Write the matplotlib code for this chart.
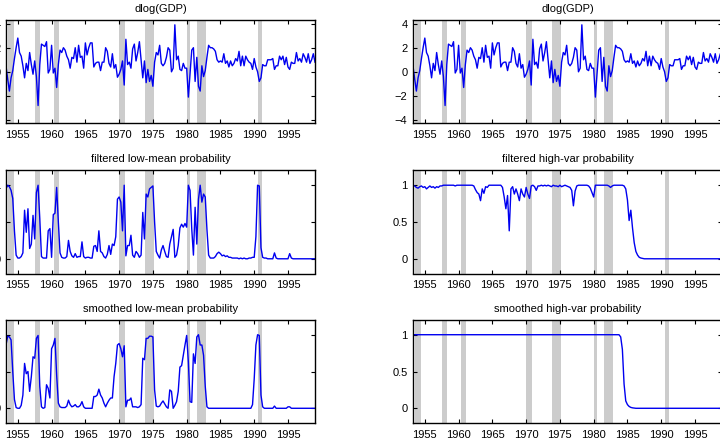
import numpy as np
import matplotlib
matplotlib.use("Agg")
import matplotlib.pyplot as plt

plt.rcParams['font.family'] = ['Liberation Sans', 'DejaVu Sans']
plt.rcParams['font.size'] = 8

# quarterly data, first obs 1953Q2, last obs 1999Q1
first_date = 1953.25

gdp = [
    0.5, -0.6, -1.6,            # 1953
    -0.5, 0.1, 1.1, 2.0,        # 1954
    2.8, 1.6, 1.3, 0.5,         # 1955
    -0.5, 0.7, 0.1, 1.6,        # 1956
    0.6, -0.2, 0.9, -0.4,       # 1957
    -2.8, 0.6, 2.3, 2.2,        # 1958
    2.1, 2.5, -0.1, 0.2,        # 1959
    2.2, -0.1, 0.3, -1.3,       # 1960
    0.6, 1.8, 1.6, 2.0,         # 1961
    1.8, 1.3, 1.0, 0.3,         # 1962
    1.2, 1.1, 2.0, 0.8,         # 1963
    2.2, 1.2, 1.3, 0.3,         # 1964
    2.4, 1.4, 2.0, 2.4,         # 1965
    2.4, 0.4, 0.7, 0.8,         # 1966
    0.8, 0.1, 0.8, 0.8,         # 1967
    2.0, 1.7, 0.7, 0.4,         # 1968
    1.5, 0.3, 0.6, -0.45,       # 1969
    -0.2, 0.2, 0.9, -1.1,       # 1970
    2.7, 0.6, 0.8, 0.3,         # 1971
    1.9, 2.3, 0.9, 1.6,         # 1972
    2.5, 1.0, -0.5, 0.9,        # 1973
    -0.9, 0.2, -0.8, -0.3,      # 1974
    -1.2, 0.8, 1.6, 1.4,        # 1975
    2.2, 0.7, 0.5, 0.7,         # 1976
    1.2, 2.0, 1.8, 0.0,         # 1977
    0.3, 3.9, 1.0, 1.3,         # 1978
    0.2, 0.1, 0.7, 0.3,         # 1979
    0.3, -2.1, -0.1, 1.8,       # 1980
    2.0, -0.8, 1.2, -1.2,       # 1981
    -1.6, 0.5, -0.4, 0.1,       # 1982
    1.2, 2.2, 2.0, 2.0,         # 1983
    1.9, 1.7, 1.0, 0.8,         # 1984
    0.9, 0.8, 1.5, 0.7,         # 1985
    0.9, 0.4, 0.9, 0.5,         # 1986
    0.7, 1.1, 0.9, 1.7,         # 1987
    0.5, 1.3, 0.5, 1.3,         # 1988
    1.0, 0.8, 0.7, 0.2,         # 1989
    1.1, 0.4, 0.0, -0.8,        # 1990
    -0.5, 0.6, 0.5, 0.5,        # 1991
    1.0, 1.0, 1.0, 1.1,         # 1992
    0.2, 0.5, 0.5, 1.3,         # 1993
    1.0, 1.3, 0.6, 1.2,         # 1994
    0.4, 0.2, 0.8, 0.7,         # 1995
    0.7, 1.6, 0.9, 1.1,         # 1996
    0.8, 1.5, 1.2, 0.8,         # 1997
    1.5, 0.7, 1.0, 1.5,         # 1998
    0.8,                        # 1999
]

filt_low_mean = [
    0.95, 1.0, 0.98,            # 1953
    0.93, 0.82, 0.38, 0.05,     # 1954
    0.01, 0.01, 0.03, 0.08,     # 1955
    0.66, 0.36, 0.68, 0.14,     # 1956
    0.2, 0.59, 0.27, 0.9,       # 1957
    1.0, 0.55, 0.03, 0.01,      # 1958
    0.01, 0.01, 0.38, 0.41,     # 1959
    0.02, 0.6, 0.62, 0.97,      # 1960
    0.5, 0.08, 0.02, 0.01,      # 1961
    0.01, 0.03, 0.25, 0.1,      # 1962
    0.04, 0.02, 0.07, 0.02,     # 1963
    0.03, 0.03, 0.23, 0.03,     # 1964
    0.01, 0.02, 0.02, 0.01,     # 1965
    0.01, 0.17, 0.18, 0.1,      # 1966
    0.38, 0.1, 0.08, 0.03,      # 1967
    0.01, 0.06, 0.18, 0.06,     # 1968
    0.2, 0.18, 0.3, 0.81,       # 1969
    0.84, 0.77, 0.38, 1.0,      # 1970
    0.04, 0.18, 0.18, 0.32,     # 1971
    0.05, 0.02, 0.1, 0.07,      # 1972
    0.02, 0.05, 0.63, 0.27,     # 1973
    0.88, 0.84, 0.95, 0.97,     # 1974
    0.99, 0.5, 0.1, 0.05,       # 1975
    0.01, 0.12, 0.18, 0.1,      # 1976
    0.03, 0.02, 0.2, 0.3,       # 1977
    0.4, 0.02, 0.05, 0.18,      # 1978
    0.42, 0.47, 0.43, 0.48,     # 1979
    0.43, 1.0, 0.93, 0.41,      # 1980
    0.05, 0.7, 0.2, 0.81,       # 1981
    1.0, 0.77, 0.88, 0.84,      # 1982
    0.4, 0.05, 0.01, 0.01,      # 1983
    0.01, 0.03, 0.07, 0.09,     # 1984
    0.07, 0.04, 0.05, 0.03,     # 1985
    0.04, 0.02, 0.02, 0.01,     # 1986
    0.01, 0.01, 0.01, 0.0,      # 1987
    0.01, 0.0, 0.01, 0.0,       # 1988
    0.0, 0.01, 0.01, 0.02,      # 1989
    0.02, 0.3, 1.0, 0.99,       # 1990
    0.15, 0.02, 0.01, 0.01,     # 1991
    0.0, 0.0, 0.0, 0.0,         # 1992
    0.08, 0.01, 0.0, 0.0,       # 1993
    0.0, 0.0, 0.0, 0.0,         # 1994
    0.0, 0.07, 0.01, 0.0,       # 1995
    0.0, 0.0, 0.0, 0.0,         # 1996
    0.0, 0.0, 0.0, 0.0,         # 1997
    0.0, 0.0, 0.0, 0.0,         # 1998
    0.0,                        # 1999
]

filt_high_var = [
    1.0, 0.99, 0.97,            # 1953
    0.96, 0.98, 0.99, 0.97,     # 1954
    0.98, 0.95, 0.97, 0.99,     # 1955
    0.97, 0.98, 0.96, 0.98,     # 1956
    0.97, 0.99, 0.99, 1.0,      # 1957
    1.0, 1.0, 1.0, 1.0,         # 1958
    1.0, 1.0, 0.99, 1.0,        # 1959
    1.0, 1.0, 1.0, 1.0,         # 1960
    1.0, 1.0, 1.0, 1.0,         # 1961
    1.0, 0.99, 0.94, 0.9,       # 1962
    0.88, 0.79, 0.95, 0.89,     # 1963
    0.98, 0.97, 1.0, 1.0,       # 1964
    1.0, 1.0, 1.0, 1.0,         # 1965
    1.0, 1.0, 0.97, 0.84,       # 1966
    0.68, 0.86, 0.38, 0.95,     # 1967
    0.98, 0.88, 0.95, 0.88,     # 1968
    0.79, 0.95, 0.88, 0.84,     # 1969
    0.97, 0.88, 0.82, 0.99,     # 1970
    1.0, 0.98, 0.93, 0.99,      # 1971
    0.99, 1.0, 0.99, 1.0,       # 1972
    0.99, 1.0, 0.99, 0.98,      # 1973
    1.0, 0.99, 0.99, 0.98,      # 1974
    1.0, 0.98, 0.99, 1.0,       # 1975
    0.99, 0.98, 0.97, 0.93,     # 1976
    0.72, 0.92, 0.99, 1.0,      # 1977
    1.0, 1.0, 1.0, 1.0,         # 1978
    1.0, 0.99, 0.96, 0.9,       # 1979
    0.84, 1.0, 1.0, 1.0,        # 1980
    1.0, 1.0, 1.0, 1.0,         # 1981
    1.0, 0.99, 0.97, 0.99,      # 1982
    1.0, 1.0, 1.0, 1.0,         # 1983
    1.0, 1.0, 0.99, 0.95,       # 1984
    0.8, 0.52, 0.66, 0.42,      # 1985
    0.22, 0.1, 0.05, 0.02,      # 1986
    0.01, 0.005, 0.0, 0.0,      # 1987
    0.0, 0.0, 0.0, 0.0,         # 1988
    0.0, 0.0, 0.0, 0.0,         # 1989
    0.0, 0.0, 0.0, 0.0,         # 1990
    0.0, 0.0, 0.0, 0.0,         # 1991
    0.0, 0.0, 0.0, 0.0,         # 1992
    0.0, 0.0, 0.0, 0.0,         # 1993
    0.0, 0.0, 0.0, 0.0,         # 1994
    0.0, 0.0, 0.0, 0.0,         # 1995
    0.0, 0.0, 0.0, 0.0,         # 1996
    0.0, 0.0, 0.0, 0.0,         # 1997
    0.0, 0.0, 0.0, 0.0,         # 1998
    0.0,                        # 1999
]

smooth_low_mean = [
    0.86, 0.98, 0.97,           # 1953
    0.93, 0.5, 0.12, 0.01,      # 1954
    0.0, 0.0, 0.04, 0.18,       # 1955
    0.61, 0.47, 0.5, 0.23,      # 1956
    0.43, 0.7, 0.68, 0.95,      # 1957
    0.99, 0.3, 0.02, 0.0,       # 1958
    0.01, 0.32, 0.27, 0.14,     # 1959
    0.81, 0.86, 0.95, 0.45,     # 1960
    0.07, 0.02, 0.01, 0.01,     # 1961
    0.01, 0.03, 0.11, 0.05,     # 1962
    0.02, 0.03, 0.05, 0.02,     # 1963
    0.02, 0.04, 0.09, 0.02,     # 1964
    0.0, 0.0, 0.0, 0.0,         # 1965
    0.0, 0.16, 0.16, 0.18,      # 1966
    0.26, 0.18, 0.14, 0.07,     # 1967
    0.02, 0.07, 0.11, 0.14,     # 1968
    0.14, 0.43, 0.61, 0.86,     # 1969
    0.88, 0.81, 0.7, 0.85,      # 1970
    0.02, 0.11, 0.11, 0.14,     # 1971
    0.02, 0.02, 0.02, 0.01,     # 1972
    0.02, 0.05, 0.68, 0.66,     # 1973
    0.95, 0.95, 0.98, 0.98,     # 1974
    0.97, 0.25, 0.03, 0.02,     # 1975
    0.03, 0.07, 0.1, 0.06,      # 1976
    0.02, 0.0, 0.25, 0.23,      # 1977
    0.0, 0.04, 0.09, 0.23,      # 1978
    0.56, 0.58, 0.72, 0.86,     # 1979
    0.99, 0.63, 0.09, 0.08,     # 1980
    0.74, 0.61, 0.97, 1.0,      # 1981
    0.86, 0.86, 0.72, 0.3,      # 1982
    0.02, 0.0, 0.0, 0.0,        # 1983
    0.0, 0.0, 0.0, 0.0,         # 1984
    0.0, 0.0, 0.0, 0.0,         # 1985
    0.0, 0.0, 0.0, 0.0,         # 1986
    0.0, 0.0, 0.0, 0.0,         # 1987
    0.0, 0.0, 0.0, 0.0,         # 1988
    0.0, 0.0, 0.0, 0.05,        # 1989
    0.4, 0.86, 1.0, 0.99,       # 1990
    0.18, 0.02, 0.0, 0.0,       # 1991
    0.0, 0.0, 0.0, 0.0,         # 1992
    0.03, 0.0, 0.0, 0.0,        # 1993
    0.0, 0.0, 0.0, 0.0,         # 1994
    0.02, 0.02, 0.0, 0.0,       # 1995
    0.0, 0.0, 0.0, 0.0,         # 1996
    0.0, 0.0, 0.0, 0.0,         # 1997
    0.0, 0.0, 0.0, 0.0,         # 1998
    0.0,                        # 1999
]

smooth_high_var = [
    1.0, 1.0, 1.0,              # 1953
    1.0, 1.0, 1.0, 1.0,         # 1954
    1.0, 1.0, 1.0, 1.0,         # 1955
    1.0, 1.0, 1.0, 1.0,         # 1956
    1.0, 1.0, 1.0, 1.0,         # 1957
    1.0, 1.0, 1.0, 1.0,         # 1958
    1.0, 1.0, 1.0, 1.0,         # 1959
    1.0, 1.0, 1.0, 1.0,         # 1960
    1.0, 1.0, 1.0, 1.0,         # 1961
    1.0, 1.0, 1.0, 1.0,         # 1962
    1.0, 1.0, 1.0, 1.0,         # 1963
    1.0, 1.0, 1.0, 1.0,         # 1964
    1.0, 1.0, 1.0, 1.0,         # 1965
    1.0, 1.0, 1.0, 1.0,         # 1966
    1.0, 1.0, 1.0, 1.0,         # 1967
    1.0, 1.0, 1.0, 1.0,         # 1968
    1.0, 1.0, 1.0, 1.0,         # 1969
    1.0, 1.0, 1.0, 1.0,         # 1970
    1.0, 1.0, 1.0, 1.0,         # 1971
    1.0, 1.0, 1.0, 1.0,         # 1972
    1.0, 1.0, 1.0, 1.0,         # 1973
    1.0, 1.0, 1.0, 1.0,         # 1974
    1.0, 1.0, 1.0, 1.0,         # 1975
    1.0, 1.0, 1.0, 1.0,         # 1976
    1.0, 1.0, 1.0, 1.0,         # 1977
    1.0, 1.0, 1.0, 1.0,         # 1978
    1.0, 1.0, 1.0, 1.0,         # 1979
    1.0, 1.0, 1.0, 1.0,         # 1980
    1.0, 1.0, 1.0, 1.0,         # 1981
    1.0, 1.0, 1.0, 1.0,         # 1982
    1.0, 1.0, 1.0, 1.0,         # 1983
    0.97, 0.8, 0.33, 0.1,       # 1984
    0.05, 0.025, 0.012, 0.006,  # 1985
    0.003, 0.0, 0.0, 0.0,       # 1986
    0.0, 0.0, 0.0, 0.0,         # 1987
    0.0, 0.0, 0.0, 0.0,         # 1988
    0.0, 0.0, 0.0, 0.0,         # 1989
    0.0, 0.0, 0.0, 0.0,         # 1990
    0.0, 0.0, 0.0, 0.0,         # 1991
    0.0, 0.0, 0.0, 0.0,         # 1992
    0.0, 0.0, 0.0, 0.0,         # 1993
    0.0, 0.0, 0.0, 0.0,         # 1994
    0.0, 0.0, 0.0, 0.0,         # 1995
    0.0, 0.0, 0.0, 0.0,         # 1996
    0.0, 0.0, 0.0, 0.0,         # 1997
    0.0, 0.0, 0.0, 0.0,         # 1998
    0.0,                        # 1999
]

# NBER recessions (peak, trough)
recessions = [(1953.5, 1954.37), (1957.6, 1958.3), (1960.3, 1961.1),
              (1969.95, 1970.9), (1973.85, 1975.2), (1980.0, 1980.5),
              (1981.5, 1982.9), (1990.5, 1991.2)]

year_ticks = [1955, 1960, 1965, 1970, 1975, 1980, 1985, 1990, 1995]
gdp_ticks = [-4, -2, 0, 2, 4]
prob_ticks = [0, 0.5, 1]
prob_ticklabels = ['0', '0.5', '1']

dates = first_date + 0.25 * np.arange(len(gdp))

W, H = 720, 448
fig = plt.figure(figsize=(W / 100, H / 100), dpi=100)

# the figure is cropped: left column's y labels and right column's
# right spine fall outside the canvas
col_x = [6, 413]
ax_w = 309
row_top = [20, 170.5, 320]
ax_h = 103

panels = [
    (0, 0, 'dlog(GDP)', gdp, 'gdp'),
    (0, 1, 'dlog(GDP)', gdp, 'gdp'),
    (1, 0, 'filtered low-mean probability', filt_low_mean, 'prob'),
    (1, 1, 'filtered high-var probability', filt_high_var, 'prob'),
    (2, 0, 'smoothed low-mean probability', smooth_low_mean, 'prob'),
    (2, 1, 'smoothed high-var probability', smooth_high_var, 'prob'),
]

for row, col, title, series, kind in panels:
    ax = fig.add_axes([col_x[col] / W, 1 - (row_top[row] + ax_h) / H,
                       ax_w / W, ax_h / H])
    for a, b in recessions:
        ax.axvspan(a, b, color='0.8', lw=0, zorder=0)
    ax.plot(dates, series, color='#0000f0', lw=1.0, zorder=2)
    ax.set_xlim(first_date, dates[-1])
    ax.set_xticks(year_ticks)
    if kind == 'gdp':
        ax.set_ylim(-4.25, 4.3)
        ax.set_yticks(gdp_ticks)
    else:
        ax.set_ylim(-0.2, 1.2)
        ax.set_yticks(prob_ticks)
        ax.set_yticklabels(prob_ticklabels)
    ax.tick_params(direction='in', length=3, width=0.8, top=True, right=True,
                   labelsize=8)
    ax.tick_params(axis='x', pad=5)
    ax.tick_params(axis='y', pad=4)
    for s in ax.spines.values():
        s.set_linewidth(1.0)
        s.set_zorder(3)
    ax.set_title(title, fontsize=8, pad=6)

fig.savefig('out.png', dpi=100)
